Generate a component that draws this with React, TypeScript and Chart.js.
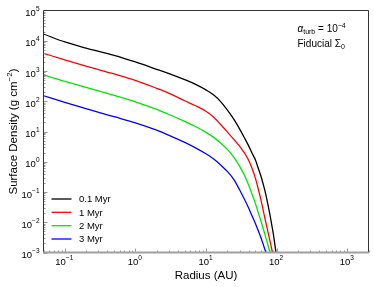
import React, { useEffect, useRef } from "react";
import { Chart, registerables } from "chart.js";

Chart.register(...registerables);

// ---- data ----
const radiusAU = [0.05, 0.1, 0.2, 0.5, 1, 2, 3, 5, 7, 10, 13, 16, 20, 25, 30, 35, 40, 45, 50, 55, 60, 65, 70, 75, 80, 85, 90, 95, 100, 105];
const sigma01Myr = [16700, 9100, 5710, 3300, 2000, 1140, 820, 515, 369, 237, 158, 99.5, 52, 24.7, 12.0, 6.2, 3.42, 1.9, 1.16, 0.607, 0.33, 0.173, 0.087, 0.0407, 0.019, 0.00855, 0.004, 0.00166, 0.00072, 0.00031];
const sigma1Myr = [3850, 2330, 1450, 802, 493, 268, 183, 104, 72.4, 46.6, 28.8, 17.3, 9.7, 5.36, 3.21, 1.95, 1.14, 0.598, 0.288, 0.126, 0.0552, 0.023, 0.0105, 0.00509, 0.00257, 0.00135, 0.00075, 0.00042, null, null];
const sigma2Myr = [738, 457, 287, 156, 95.9, 53.8, 36.5, 21.6, 14.9, 9.33, 6.28, 4.23, 2.56, 1.38, 0.701, 0.356, 0.173, 0.0834, 0.042, 0.0207, 0.011, 0.00585, 0.00323, 0.00184, 0.00106, 0.00062, null, null, null, null];
const sigma3Myr = [152, 92.3, 57.1, 30.8, 19.4, 11.1, 7.48, 4.36, 2.94, 1.83, 1.2, 0.793, 0.48, 0.253, 0.116, 0.0574, 0.0301, 0.016, 0.0091, 0.00521, 0.00306, 0.00177, 0.00105, 0.00064, null, null, null, null, null, null];

const seriesLabels = ["0.1 Myr", "1 Myr", "2 Myr", "3 Myr"];
const seriesColors = ["#000000", "#ff0000", "#00e600", "#0000ff"];
const seriesValues = [sigma01Myr, sigma1Myr, sigma2Myr, sigma3Myr];

const xTickExponents = [-1, 0, 1, 2, 3];
const yTickExponents = [-3, -2, -1, 0, 1, 2, 3, 4, 5];
const xMin = 0.05;
const xMax = 2000;
const yMin = 1e-3;
const yMax = 1e5;

const FONT = '"Liberation Sans", Arial, Helvetica, sans-serif';

type Seg = { t: string; s: number; dy?: number; it?: boolean };

function segFont(g: Seg) {
  return `${g.it ? "italic " : ""}${g.s}px ${FONT}`;
}
function richWidth(ctx: CanvasRenderingContext2D, segs: Seg[]) {
  let w = 0;
  for (const g of segs) {
    ctx.font = segFont(g);
    w += ctx.measureText(g.t).width;
  }
  return w;
}
function drawRich(ctx: CanvasRenderingContext2D, segs: Seg[], x: number, y: number, align: "left" | "center" | "right") {
  const w = richWidth(ctx, segs);
  let cx = align === "left" ? x : align === "center" ? x - w / 2 : x - w;
  ctx.textAlign = "left";
  ctx.textBaseline = "alphabetic";
  for (const g of segs) {
    ctx.font = segFont(g);
    ctx.fillText(g.t, cx, y + (g.dy || 0));
    cx += ctx.measureText(g.t).width;
  }
}
function expText(e: number) {
  return e < 0 ? "\u2212" + Math.abs(e) : String(e);
}
function powSegs(e: number): Seg[] {
  return [
    { t: "10", s: 9.5 },
    { t: expText(e), s: 6.5, dy: -5 },
  ];
}

const framePlugin = {
  id: "framePlugin",
  afterDatasetsDraw(chart: any) {
    const ctx: CanvasRenderingContext2D = chart.ctx;
    const { left, right, top, bottom } = chart.chartArea;
    const xs = chart.scales.x;
    const ys = chart.scales.y;
    ctx.save();
    ctx.strokeStyle = "#9a9a9a";
    ctx.lineWidth = 1;
    ctx.beginPath();
    for (let e = -2; e <= 3; e++) {
      for (let m = 1; m <= 9; m++) {
        const v = m * Math.pow(10, e);
        if (v < xMin || v > xMax) continue;
        const px = Math.round(xs.getPixelForValue(v)) + 0.5;
        const len = m === 1 ? 4 : 2;
        ctx.moveTo(px, bottom);
        ctx.lineTo(px, bottom - len);
      }
    }
    for (let e = -3; e <= 4; e++) {
      for (let m = 1; m <= 9; m++) {
        const v = m * Math.pow(10, e);
        if (v < yMin || v > yMax) continue;
        const py = Math.round(ys.getPixelForValue(v)) + 0.5;
        const len = m === 1 ? 4 : 2;
        ctx.moveTo(left, py);
        ctx.lineTo(left + len, py);
      }
    }
    ctx.stroke();
    ctx.strokeStyle = "#333333";
    ctx.lineWidth = 1;
    ctx.beginPath();
    ctx.moveTo(left, bottom);
    ctx.lineTo(left, top);
    ctx.lineTo(right, top);
    ctx.lineTo(right, bottom);
    ctx.stroke();
    ctx.strokeStyle = "#a0a0a0";
    ctx.lineWidth = 2;
    ctx.beginPath();
    ctx.moveTo(left - 0.5, bottom);
    ctx.lineTo(right + 0.5, bottom);
    ctx.stroke();
    ctx.restore();
  },
  afterDraw(chart: any) {
    const ctx: CanvasRenderingContext2D = chart.ctx;
    const { left, right, top, bottom } = chart.chartArea;
    const xs = chart.scales.x;
    const ys = chart.scales.y;
    ctx.save();
    ctx.fillStyle = "#000";
    for (const e of xTickExponents) {
      const px = xs.getPixelForValue(Math.pow(10, e));
      drawRich(ctx, powSegs(e), px - 0.5, bottom + 12.5, "center");
    }
    for (const e of yTickExponents) {
      const py = ys.getPixelForValue(Math.pow(10, e));
      drawRich(ctx, powSegs(e), left - 4, py + 5.5, "right");
    }
    drawRich(ctx, [{ t: "Radius (AU)", s: 11.5 }], (left + right) / 2, 279, "center");
    ctx.save();
    ctx.translate(17, (top + bottom) / 2);
    ctx.rotate(-Math.PI / 2);
    drawRich(
      ctx,
      [
        { t: "Surface Density (g cm", s: 11.5 },
        { t: "\u22122", s: 8, dy: -5 },
        { t: ")", s: 11.5 },
      ],
      0,
      0,
      "center"
    );
    ctx.restore();
    drawRich(
      ctx,
      [
        { t: "\u03b1", s: 10, it: true },
        { t: "turb", s: 7, dy: 2.5 },
        { t: " = 10", s: 10 },
        { t: "\u22124", s: 7, dy: -4 },
      ],
      297.5,
      31.5,
      "left"
    );
    drawRich(
      ctx,
      [
        { t: "Fiducial \u03a3", s: 10 },
        { t: "0", s: 7, dy: 2.5 },
      ],
      297.5,
      46.5,
      "left"
    );
    const legendY = [199, 212.3, 225.7, 239];
    seriesLabels.forEach((lab, i) => {
      const y = legendY[i];
      ctx.strokeStyle = seriesColors[i];
      ctx.lineWidth = 1.3;
      ctx.beginPath();
      ctx.moveTo(51.5, y);
      ctx.lineTo(71.5, y);
      ctx.stroke();
      drawRich(ctx, [{ t: lab, s: 9.5 }], 79, y + 3.4, "left");
    });
    ctx.restore();
  },
};

export default function App() {
  const canvasRef = useRef<HTMLCanvasElement | null>(null);
  useEffect(() => {
    const canvas = canvasRef.current;
    if (!canvas) return;
    const datasets = seriesValues.map((vals, i) => ({
      label: seriesLabels[i],
      data: radiusAU
        .map((r, j) => ({ x: r, y: vals[j] }))
        .filter((p) => p.y !== null && p.y !== undefined),
      borderColor: seriesColors[i],
      backgroundColor: seriesColors[i],
      borderWidth: 1.3,
      pointRadius: 0,
      fill: false,
      cubicInterpolationMode: "monotone" as const,
      spanGaps: false,
    }));
    const chart = new Chart(canvas, {
      type: "line",
      data: { datasets },
      options: {
        responsive: false,
        devicePixelRatio: 1,
        animation: false,
        events: [],
        layout: { padding: { left: 43.5, top: 10.5, right: 5.5, bottom: 34.5 } },
        plugins: { legend: { display: false }, tooltip: { enabled: false } },
        scales: {
          x: { type: "logarithmic", min: xMin, max: xMax, display: false },
          y: { type: "logarithmic", min: yMin, max: yMax, display: false },
        },
      },
      plugins: [framePlugin],
    } as any);
    return () => chart.destroy();
  }, []);
  return (
    <div style={{ position: "fixed", left: 0, top: 0, width: 374, height: 287, background: "#fff" }}>
      <canvas ref={canvasRef} width={374} height={287} style={{ display: "block" }} />
    </div>
  );
}
